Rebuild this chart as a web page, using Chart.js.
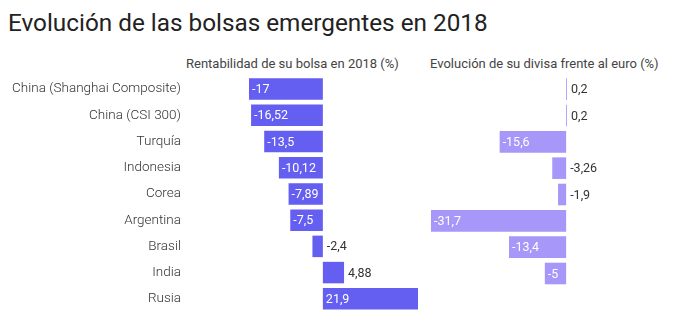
<!DOCTYPE html>
<html>
<head>
<meta charset="utf-8">
<script src="https://cdn.jsdelivr.net/npm/chart.js@4/dist/chart.umd.min.js"></script>
<style>
  html, body { margin: 0; padding: 0; background: #fff; }
  body { width: 675px; height: 324px; position: relative; overflow: hidden; font-family: Roboto, sans-serif; }
  h1 { position: absolute; left: 8px; top: 8px; margin: 0; font-size: 24.3px; font-weight: 400; color: #222; white-space: nowrap; }
  .head { position: absolute; top: 56px; font-size: 13px; font-weight: 400; color: #444; white-space: nowrap; }
  #wrapA { position: absolute; left: 0; top: 0; width: 425px; height: 324px; }
  #wrapB { position: absolute; left: 425px; top: 0; width: 250px; height: 324px; }
</style>
</head>
<body>
<h1>Evolución de las bolsas emergentes en 2018</h1>
<div class="head" style="left:186px">Rentabilidad de su bolsa en 2018 (%)</div>
<div class="head" style="left:430px">Evolución de su divisa frente al euro (%)</div>
<div id="wrapA"><canvas id="chartA"></canvas></div>
<div id="wrapB"><canvas id="chartB"></canvas></div>
<script>
// Datos: rentabilidad bolsa y evolución divisa vs euro
const paises = ['China (Shanghai Composite)', 'China (CSI 300)', 'Turquía', 'Indonesia', 'Corea', 'Argentina', 'Brasil', 'India', 'Rusia'];
const bolsa = [-17, -16.52, -13.5, -10.12, -7.89, -7.5, -2.4, 4.88, 21.9];
const divisa = [0.2, 0.2, -15.6, -3.26, -1.9, -31.7, -13.4, -5, null];

const fmt = (v) => String(v).replace('.', ',');

// Etiquetas de valor: dentro de la barra si cabe, si no a la derecha
const valueLabels = {
  id: 'valueLabels',
  afterDatasetsDraw(chart) {
    const ctx = chart.ctx;
    const meta = chart.getDatasetMeta(0);
    const data = chart.data.datasets[0].data;
    ctx.save();
    ctx.font = '400 12.5px Roboto';
    ctx.textBaseline = 'middle';
    ctx.textAlign = 'left';
    meta.data.forEach((bar, i) => {
      if (data[i] === null) return;
      const txt = fmt(data[i]);
      const left = Math.min(bar.x, bar.base);
      const right = Math.max(bar.x, bar.base);
      const w = ctx.measureText(txt).width;
      if (right - left >= w + 3) {
        ctx.fillStyle = '#fff';
        ctx.fillText(txt, left + 3, bar.y + 1);
      } else {
        ctx.fillStyle = '#333';
        ctx.fillText(txt, right + 4, bar.y + 1);
      }
    });
    ctx.restore();
  }
};

function makeChart(id, values, color, min, max, showLabels, padding) {
  return new Chart(document.getElementById(id), {
    type: 'bar',
    data: {
      labels: paises,
      datasets: [{
        data: values,
        backgroundColor: color,
        categoryPercentage: 1,
        barPercentage: 0.82
      }]
    },
    options: {
      indexAxis: 'y',
      responsive: true,
      maintainAspectRatio: false,
      animation: false,
      layout: { padding },
      scales: {
        x: { min, max, display: false },
        y: {
          display: showLabels,
          // tickLength deja el hueco entre etiquetas y barras
          grid: { display: true, drawTicks: true, tickLength: 64, color: 'rgba(0,0,0,0)' },
          border: { display: false },
          ticks: {
            padding: 4,
            color: '#333',
            font: { family: 'Roboto', size: 13.5, weight: 300 }
          },
          afterFit: (scale) => { if (showLabels) scale.width = 249; }
        }
      },
      plugins: { legend: { display: false }, tooltip: { enabled: false } }
    },
    plugins: [valueLabels]
  });
}

makeChart('chartA', bolsa, '#645ef1', -17, 21.9, true, { left: 0, right: 7, top: 76, bottom: 11 });
makeChart('chartB', divisa, '#a797f8', -31.7, 0.2, false, { left: 6, right: 108, top: 76, bottom: 11 });
</script>
</body>
</html>
